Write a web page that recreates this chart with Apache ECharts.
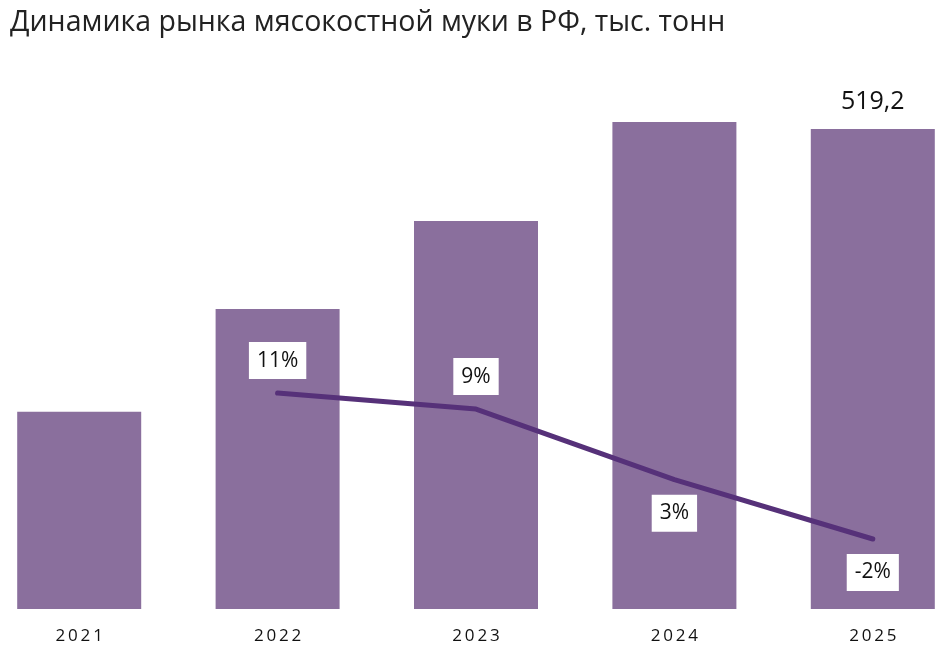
<!DOCTYPE html>
<html>
<head>
<meta charset="utf-8">
<script src="https://cdn.jsdelivr.net/npm/echarts@6/dist/echarts.min.js"></script>
<style>html,body{margin:0;padding:0;background:#fff;overflow:hidden}#c{width:992px;height:657px;margin-left:-20.2px}</style>
</head>
<body>
<div id="c"></div>
<script>
var years = ['2021', '2022', '2023', '2024', '2025'];
var marketVolume = [213.4, 324.5, 419.7, 526.8, 519.2];
var growthPct = [null, 10.7, 9.3, 3.1, -2.1];
var growthLabelPos = ['top', 'top', 'top', 'bottom', 'bottom'];
var titleText = 'Динамика рынка мясокостной муки в РФ, тыс. тонн';

var chart = echarts.init(document.getElementById('c'));
var font = '"Open Sans", "Noto Sans", sans-serif';
chart.setOption({
  animation: false,
  title: {
    text: titleText, left: 25, top: 3,
    textStyle: { fontFamily: font, fontSize: 28.5, fontWeight: 'normal', color: '#222' }
  },
  grid: { left: 0, right: 0, top: 54.3, bottom: 48, containLabel: false },
  xAxis: {
    type: 'category', data: years,
    axisLine: { show: false }, axisTick: { show: false },
    axisLabel: {
      margin: 19, fontFamily: font, fontSize: 17, color: '#111',
      formatter: function (v) { return v.split('').join('\u2009'); }
    }
  },
  yAxis: [
    { type: 'value', min: 0, max: 600, show: false, splitLine: { show: false } },
    { type: 'value', min: -8.24, max: 40.42, show: false, splitLine: { show: false } }
  ],
  series: [
    {
      type: 'bar', data: marketVolume.map(function (v, i) {
        return {
          value: v,
          label: { show: i === marketVolume.length - 1 }
        };
      }),
      barWidth: 124,
      itemStyle: { color: '#8a6f9d' },
      label: {
        position: 'top', distance: 15, fontFamily: font, fontSize: 25, color: '#111',
        formatter: function (p) { return String(p.value).replace('.', ','); }
      }
    },
    {
      type: 'line', yAxisIndex: 1,
      data: growthPct.map(function (v, i) {
        return {
          value: v,
          label: { position: growthLabelPos[i], distance: growthLabelPos[i] === 'top' ? 12 : 13 }
        };
      }),
      showSymbol: true, symbol: 'circle', symbolSize: 4,
      lineStyle: { color: '#563179', width: 5, cap: 'round', join: 'round' },
      itemStyle: { color: '#563179' },
      label: {
        show: true, fontFamily: font, fontSize: 21, color: '#111',
        backgroundColor: '#fff', padding: [8, 8, 8, 8],
        formatter: function (p) { return Math.round(p.value) + '%'; }
      }
    }
  ]
});
</script>
</body>
</html>
